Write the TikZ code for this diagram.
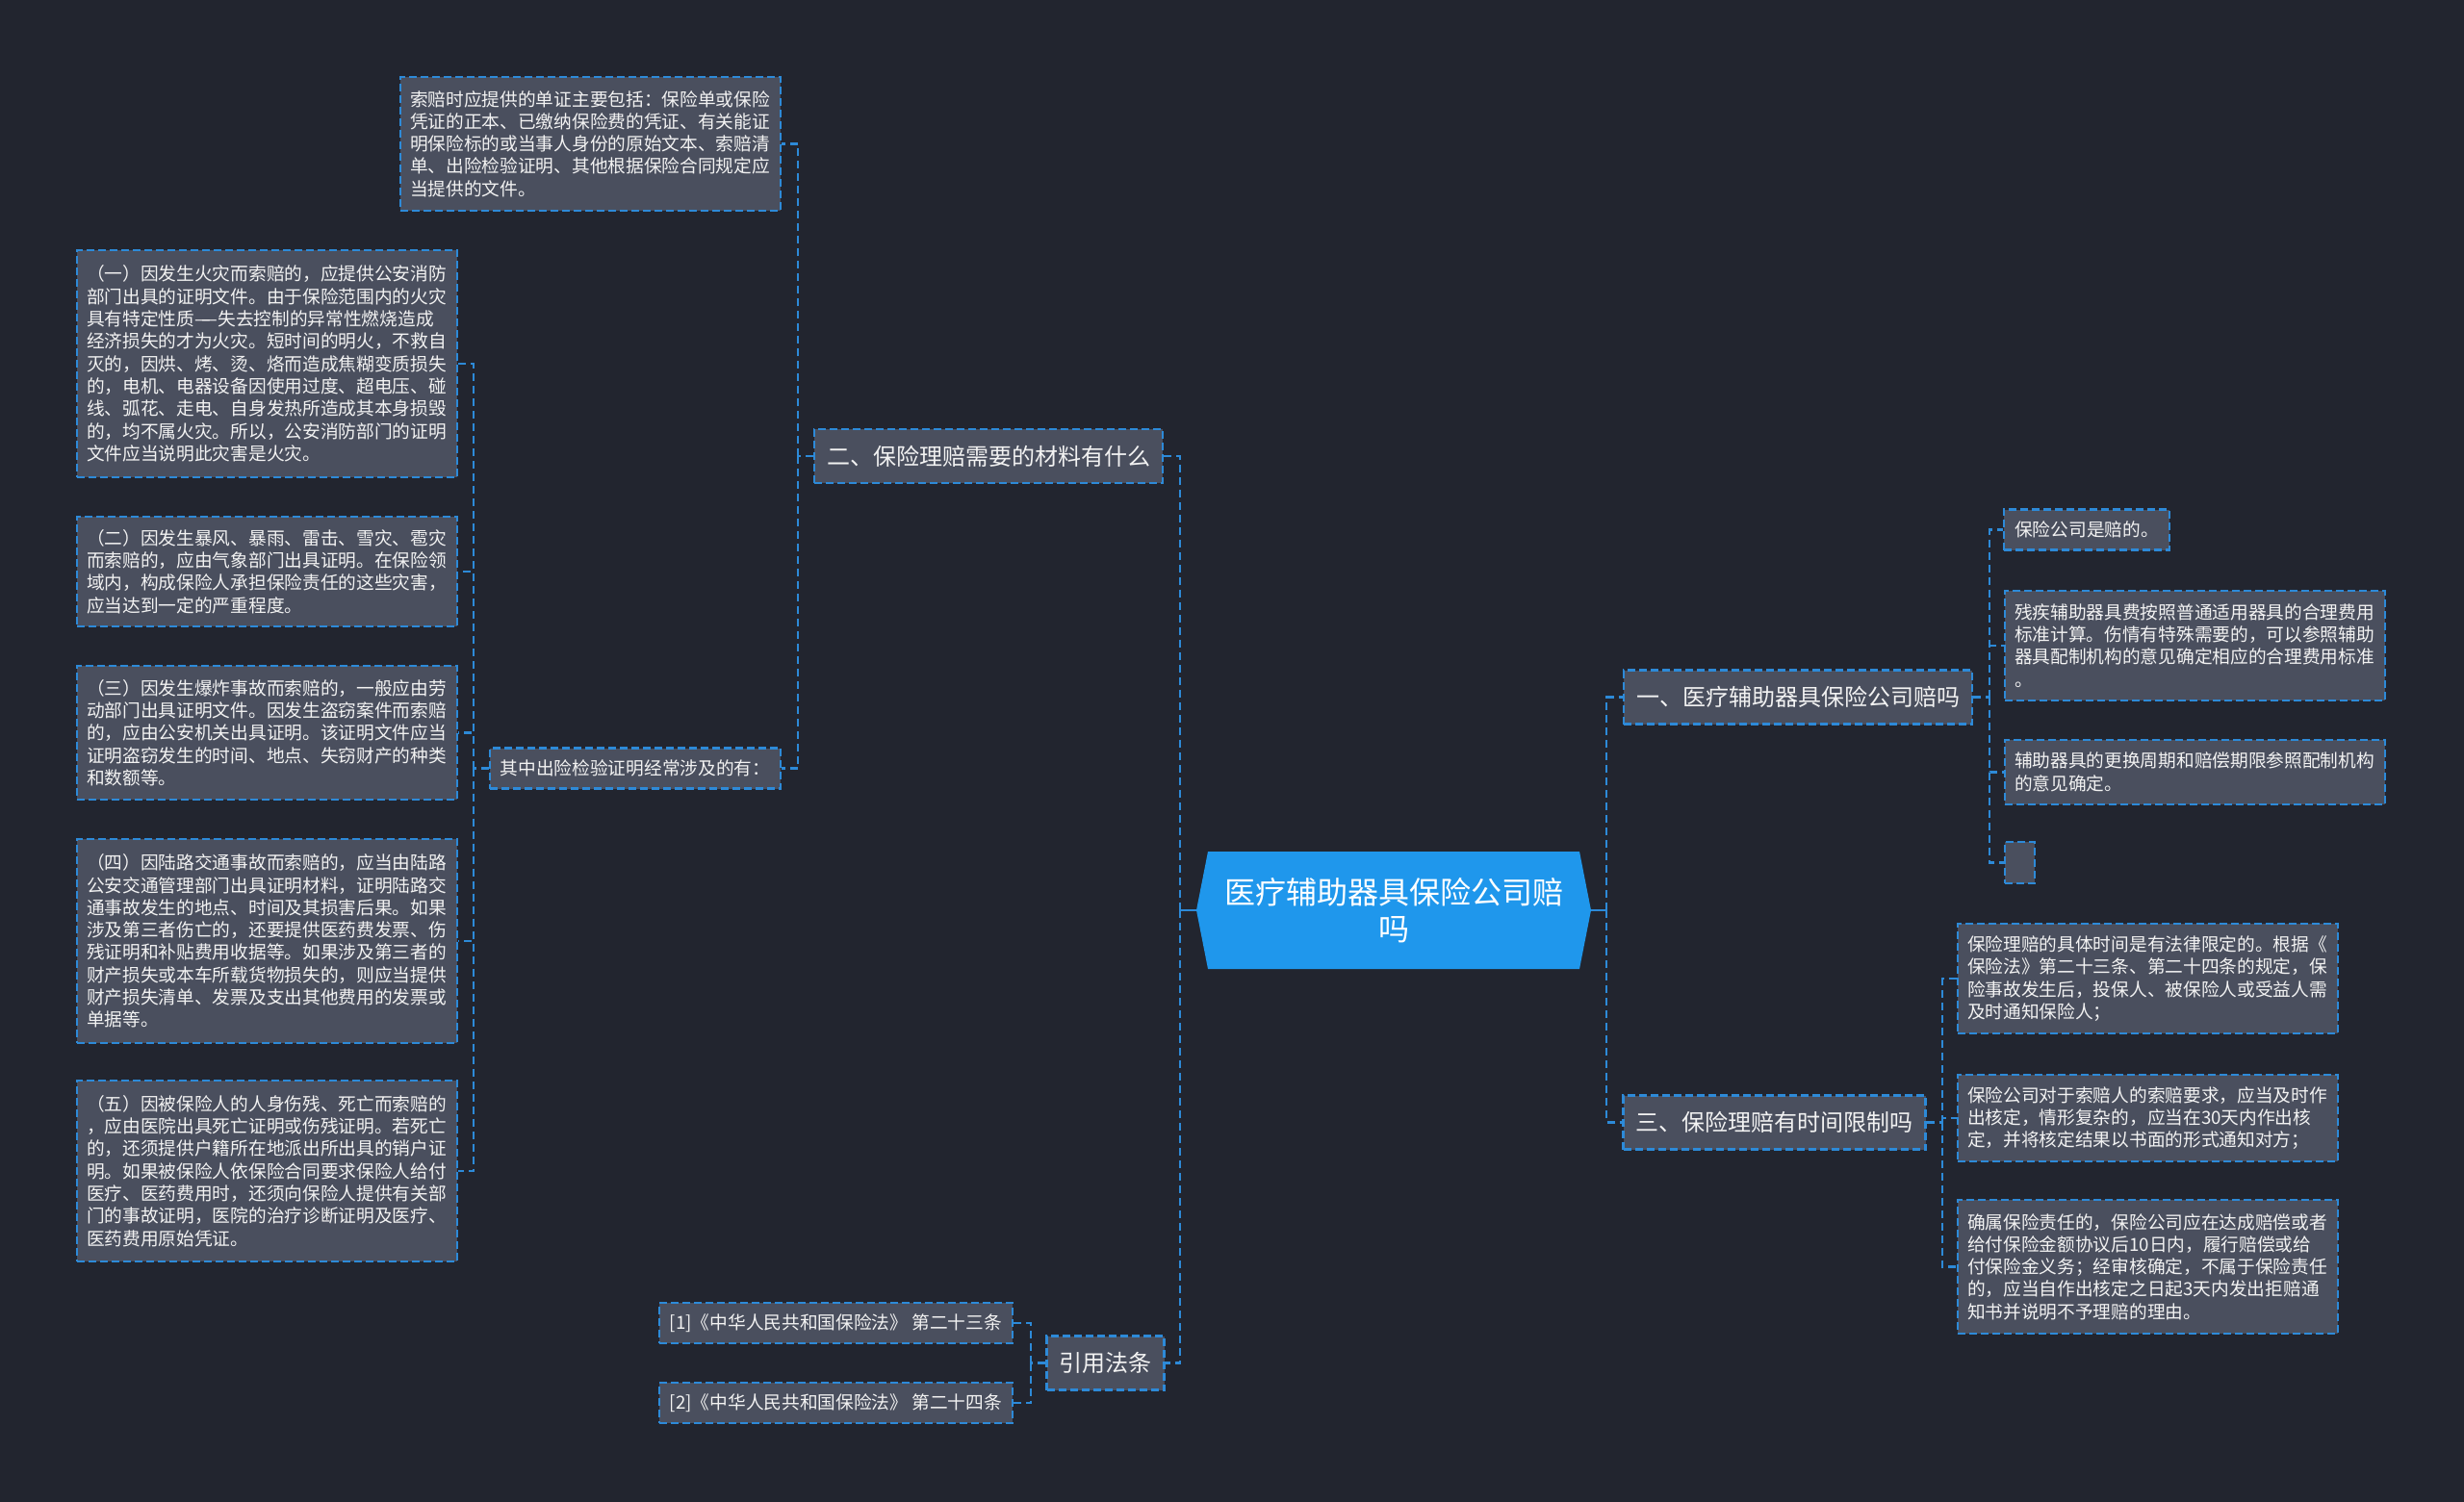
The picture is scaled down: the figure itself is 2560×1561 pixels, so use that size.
\documentclass[tikz,border=0pt]{standalone}
\usepackage{fontspec}
\setmainfont{Noto Sans CJK SC}
\definecolor{bg}{HTML}{22252F}
\definecolor{boxfill}{HTML}{4A4F5E}
\definecolor{lineblue}{HTML}{2D8AD8}
\definecolor{rootblue}{HTML}{1F97EC}
\definecolor{txt}{HTML}{F2F2F2}
\tikzset{
  boxbase/.style={draw=lineblue, fill=boxfill, line width=2.2pt, dash pattern=on 8pt off 4pt, text=txt, anchor=center},
  leaf/.style={boxbase, font=\fontsize{18.7}{23.3}\selectfont, align=left, text width=375pt, inner xsep=10pt, inner ysep=0pt},
  small/.style={boxbase, font=\fontsize{18.7}{23.3}\selectfont, inner xsep=11pt, inner ysep=0pt, minimum height=42pt},
  topic/.style={boxbase, font=\fontsize{24}{28}\selectfont, inner xsep=13pt, inner ysep=0pt, minimum height=56pt},
  conn/.style={draw=lineblue, line width=2.2pt, dash pattern=on 8pt off 5pt},
  stub/.style={draw=lineblue, line width=2.2pt},
  rootnode/.style={text=white, font=\fontsize{32}{38}\selectfont, align=center, minimum width=410pt, minimum height=122pt, inner sep=0pt}
}
\begin{document}
\begin{tikzpicture}[x=1pt,y=-1pt]
\useasboundingbox[fill=bg] (0,0) rectangle (2560,1561);

% root hexagon
\fill[rootblue] (1243,946) -- (1255,885) -- (1641,885) -- (1653,946) -- (1641,1007) -- (1255,1007) -- cycle;
\node[rootnode] (root) at (1448,946) {医疗辅助器具保险公司赔\\吗};

% level 1
\node[topic] (t2) at (1027,474) {二、保险理赔需要的材料有什么};
\node[topic] (cite) at (1148.5,1416.5) {引用法条};
\node[topic] (t1) at (1868,724.5) {一、医疗辅助器具保险公司赔吗};
\node[topic] (t3) at (1843.5,1166.5) {三、保险理赔有时间限制吗};

% children of 二
\node[leaf, minimum height=139pt] (A) at (613.5,149.5) {索赔时应提供的单证主要包括：保险单或保险\\凭证的正本、已缴纳保险费的凭证、有关能证\\明保险标的或当事人身份的原始文本、索赔清\\单、出险检验证明、其他根据保险合同规定应\\当提供的文件。};
\node[small] (q) at (660,798.5) {其中出险检验证明经常涉及的有：};

% children of 其中
\node[leaf, minimum height=236pt] (f1) at (277.5,378) {（一）因发生火灾而索赔的，应提供公安消防\\部门出具的证明文件。由于保险范围内的火灾\\具有特定性质—\kern-0.5em—失去控制的异常性燃烧造成\\经济损失的才为火灾。短时间的明火，不救自\\灭的，因烘、烤、烫、烙而造成焦糊变质损失\\的，电机、电器设备因使用过度、超电压、碰\\线、弧花、走电、自身发热所造成其本身损毁\\的，均不属火灾。所以，公安消防部门的证明\\文件应当说明此灾害是火灾。};
\node[leaf, minimum height=114pt] (f2) at (277.5,594) {（二）因发生暴风、暴雨、雷击、雪灾、雹灾\\而索赔的，应由气象部门出具证明。在保险领\\域内，构成保险人承担保险责任的这些灾害，\\应当达到一定的严重程度。};
\node[leaf, minimum height=139pt] (f3) at (277.5,761.5) {（三）因发生爆炸事故而索赔的，一般应由劳\\动部门出具证明文件。因发生盗窃案件而索赔\\的，应由公安机关出具证明。该证明文件应当\\证明盗窃发生的时间、地点、失窃财产的种类\\和数额等。};
\node[leaf, minimum height=212pt] (f4) at (277.5,978) {（四）因陆路交通事故而索赔的，应当由陆路\\公安交通管理部门出具证明材料，证明陆路交\\通事故发生的地点、时间及其损害后果。如果\\涉及第三者伤亡的，还要提供医药费发票、伤\\残证明和补贴费用收据等。如果涉及第三者的\\财产损失或本车所载货物损失的，则应当提供\\财产损失清单、发票及支出其他费用的发票或\\单据等。};
\node[leaf, minimum height=188pt] (f5) at (277.5,1217) {（五）因被保险人的人身伤残、死亡而索赔的\\，应由医院出具死亡证明或伤残证明。若死亡\\的，还须提供户籍所在地派出所出具的销户证\\明。如果被保险人依保险合同要求保险人给付\\医疗、医药费用时，还须向保险人提供有关部\\门的事故证明，医院的治疗诊断证明及医疗、\\医药费用原始凭证。};

% citations
\node[small] (c1) at (868.5,1375) {[1]《中华人民共和国保险法》 第二十三条};
\node[small] (c2) at (868.5,1458) {[2]《中华人民共和国保险法》 第二十四条};

% children of 一
\node[small] (r1) at (2168,550.5) {保险公司是赔的。};
\node[leaf, minimum height=114pt] (r2) at (2280.5,671) {残疾辅助器具费按照普通适用器具的合理费用\\标准计算。伤情有特殊需要的，可以参照辅助\\器具配制机构的意见确定相应的合理费用标准\\。};
\node[leaf, minimum height=67pt] (r3) at (2280.5,802.5) {辅助器具的更换周期和赔偿期限参照配制机构\\的意见确定。};
\node[boxbase, minimum width=31pt, minimum height=43pt, inner sep=0pt] (r4) at (2098.5,896.5) {};

% children of 三
\node[leaf, minimum height=114pt] (s1) at (2231.5,1017) {保险理赔的具体时间是有法律限定的。根据《\\保险法》第二十三条、第二十四条的规定，保\\险事故发生后，投保人、被保险人或受益人需\\及时通知保险人；};
\node[leaf, minimum height=90pt] (s2) at (2231.5,1162) {保险公司对于索赔人的索赔要求，应当及时作\\出核定，情形复杂的，应当在30天内作出核\\定，并将核定结果以书面的形式通知对方；};
\node[leaf, minimum height=139pt] (s3) at (2231.5,1316.5) {确属保险责任的，保险公司应在达成赔偿或者\\给付保险金额协议后10日内，履行赔偿或给\\付保险金义务；经审核确定，不属于保险责任\\的，应当自作出核定之日起3天内发出拒赔通\\知书并说明不予理赔的理由。};

% junction coordinates
\coordinate (jL) at (1226,946);
\coordinate (jR) at (1669,946);
\coordinate (j2) at (829,474);
\coordinate (jq) at (492,798.5);
\coordinate (jc) at (1071,1416.5);
\coordinate (j1) at (2067,724.5);
\coordinate (j3) at (2018,1166.5);

% connectors
\draw[stub] (root.west) -- (jL);
\draw[stub] (root.east) -- (jR);
\draw[conn] (jL) |- (t2.east);
\draw[conn] (jL) |- (cite.east);
\draw[conn] (jR) |- (t1.west);
\draw[conn] (jR) |- (t3.west);

\draw[conn] (t2.west) -- (j2);
\draw[conn] (j2) |- (A.east);
\draw[conn] (j2) |- (q.east);

\draw[conn] (q.west) -- (jq);
\foreach \n in {f1,f2,f3,f4,f5} \draw[conn] (jq) |- (\n.east);

\draw[conn] (cite.west) -- (jc);
\draw[conn] (jc) |- (c1.east);
\draw[conn] (jc) |- (c2.east);

\draw[conn] (t1.east) -- (j1);
\foreach \n in {r1,r2,r3,r4} \draw[conn] (j1) |- (\n.west);

\draw[conn] (t3.east) -- (j3);
\foreach \n in {s1,s2,s3} \draw[conn] (j3) |- (\n.west);
\end{tikzpicture}
\end{document}
